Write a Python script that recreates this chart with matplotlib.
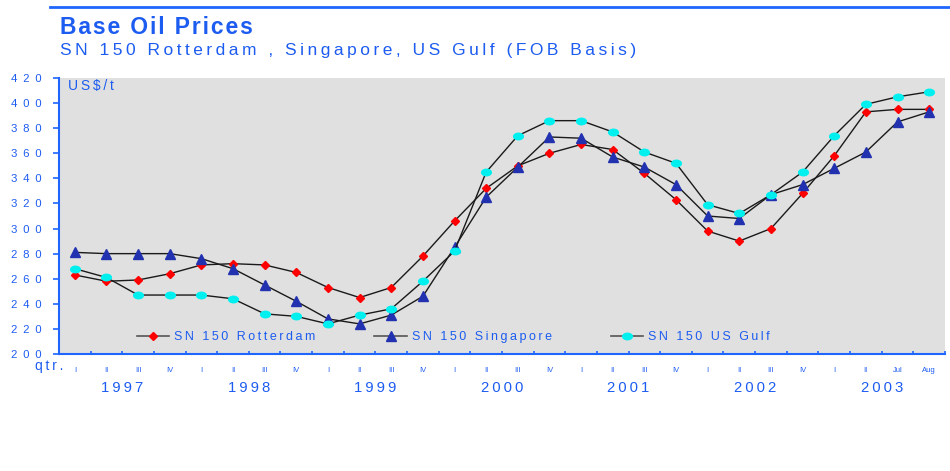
import numpy as np
import matplotlib
matplotlib.use('Agg')
import matplotlib.pyplot as plt
from matplotlib.path import Path
from matplotlib.lines import Line2D
from matplotlib.transforms import blended_transform_factory

# ---------- datos ----------
quarters = ['I', 'II', 'III', 'IV'] * 6 + ['I', 'II', 'Jul', 'Aug']
years = ['1997', '1998', '1999', '2000', '2001', '2002', '2003']

rotterdam = [263, 258, 259, 264, 271, 272, 271, 265,
             253, 245, 253, 278, 306, 332, 350, 360,
             367, 363, 344, 323, 298, 290, 300, 328,
             358, 393, 395, 395]
singapore = [281, 280, 280, 280, 276, 268, 255, 242,
             228, 224, 231, 246, 285, 325, 349, 373,
             372, 357, 349, 335, 310, 308, 327, 335,
             348, 361, 385, 393]
us_gulf = [268, 261, 247, 247, 247, 244, 232, 230,
           224, 231, 236, 258, 282, 345, 374, 386,
           386, 377, 361, 352, 319, 312, 327, 345,
           374, 399, 405, 409]

series_names = ['SN 150 Rotterdam', 'SN 150 Singapore', 'SN 150 US Gulf']

# ---------- estilo ----------
BLUE_TXT = '#1d5cf0'
BLUE_AX = '#1f66ff'
FONT = ['Liberation Sans', 'DejaVu Sans']
plt.rcParams['font.family'] = FONT

def track(s, gap='\u2009'):
    return gap.join(s)

circ = Path.unit_circle()
ellipse = Path(circ.vertices * np.array([1.5, 1.0]), circ.codes)

fig = plt.figure(figsize=(9.5, 4.71), dpi=100)
ax = fig.add_axes([0.0621, 0.2484, 0.9326, 0.586])
ax.set_facecolor('#e0e0e0')

x = np.arange(len(quarters))
ax.plot(x, rotterdam, color='#1a1a1a', lw=1, marker='D', ms=4,
        mfc='#ff0000', mec='#ff0000', zorder=3)
ax.plot(x, singapore, color='#1a1a1a', lw=1, marker='^', ms=7,
        mfc='#2231b0', mec='#2231b0', zorder=3)
ax.plot(x, us_gulf, color='#1a1a1a', lw=1, marker=ellipse, ms=7,
        mfc='#00f0f0', mec='#00f0f0', zorder=3)

ax.set_xlim(-0.5, len(quarters) - 0.5)
ax.set_ylim(200, 420)

# ejes
for s in ['top', 'right']:
    ax.spines[s].set_visible(False)
for s in ['left', 'bottom']:
    ax.spines[s].set_color(BLUE_AX)
    ax.spines[s].set_linewidth(1.5)

yt = np.arange(200, 421, 20)
ax.set_yticks(yt)
ax.set_yticklabels([track(str(v), '\u2002') for v in yt], color=BLUE_TXT)
ax.tick_params(axis='y', direction='out', length=4.3, width=1.2,
               color=BLUE_AX, labelsize=8.2, pad=8)

ax.set_xticks(np.arange(-0.5, len(quarters), 1))
ax.set_xticklabels([])
ax.tick_params(axis='x', which='major', direction='in', length=2.5,
               width=1.2, color=BLUE_AX)
ax.set_xticks(x, minor=True)
ax.set_xticklabels(quarters, minor=True, color=BLUE_TXT)
ax.tick_params(axis='x', which='minor', length=0, pad=9, labelsize=5.5)

trans = blended_transform_factory(ax.transData, ax.transAxes)
for i, yr in enumerate(years):
    xm = x[i * 4:(i + 1) * 4].mean()
    ax.text(xm, -0.123, track(yr), transform=trans, ha='center', va='center',
            fontsize=10.7, color=BLUE_TXT)

ax.text(0.01, 0.971, track('US$/t'), transform=ax.transAxes, ha='left',
        va='center', fontsize=10, color=BLUE_TXT)
fig.text(35 / 950, 1 - 366 / 471, track('qtr.'), ha='left', va='center',
         fontsize=10, color=BLUE_TXT)

# leyenda
handles = [
    Line2D([], [], color='#555555', lw=1.2, marker='D', ms=4,
           mfc='#ff0000', mec='#ff0000'),
    Line2D([], [], color='#555555', lw=1.2, marker='^', ms=7,
           mfc='#2231b0', mec='#2231b0'),
    Line2D([], [], color='#555555', lw=1.2, marker=ellipse, ms=7,
           mfc='#00f0f0', mec='#00f0f0'),
]
leg = ax.legend(handles, [track(n) for n in series_names], ncol=3,
                loc='center left', bbox_to_anchor=(0.088, 0.06),
                frameon=False, fontsize=9, handlelength=2.6,
                handletextpad=0.4, columnspacing=4.7, borderpad=0,
                borderaxespad=0)
for t in leg.get_texts():
    t.set_color(BLUE_TXT)

# títulos
fig.add_artist(Line2D([50 / 950, 1.0], [1 - 7 / 471] * 2, color=BLUE_AX, lw=2))
fig.text(60 / 950, 1 - 27 / 471, track('Base Oil Prices', '\u200a'),
         ha='left', va='center', fontsize=16.5, fontweight='bold',
         color=BLUE_TXT)
fig.text(60 / 950, 1 - 50 / 471,
         track('SN 150 Rotterdam , Singapore, US Gulf (FOB Basis)'),
         ha='left', va='center', fontsize=12.5, color=BLUE_TXT)

fig.savefig('out.png', dpi=100, facecolor='white')
